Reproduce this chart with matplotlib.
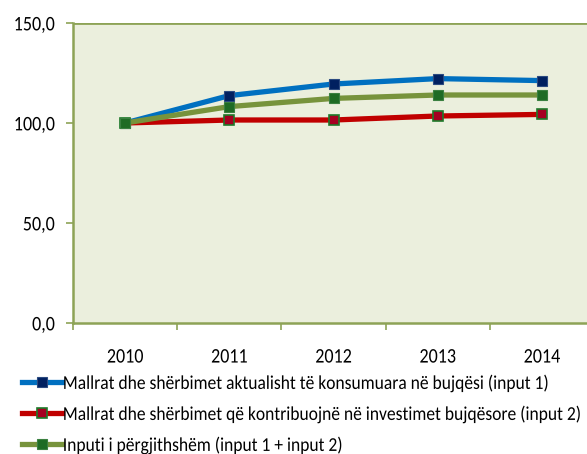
import matplotlib.pyplot as plt
from matplotlib.ticker import FuncFormatter, FixedLocator
from matplotlib.patheffects import AbstractPathEffect
from matplotlib.transforms import Affine2D

plt.rcParams['font.family'] = ['Carlito', 'DejaVu Sans']

years = ['2010', '2011', '2012', '2013', '2014']
input1 = [100.0, 113.7, 119.5, 122.2, 121.2]
input2 = [100.0, 101.5, 101.5, 103.5, 104.3]
total = [100.0, 108.2, 112.3, 114.0, 114.0]

labels = [
    'Mallrat dhe shërbimet aktualisht të konsumuara në bujqësi (input 1)',
    'Mallrat dhe shërbimet që kontribuojnë në investimet bujqësore (input 2)',
    'Inputi i përgjithshëm (input 1 + input 2)',
]


class Stretch(AbstractPathEffect):
    """Make glyphs taller, around the middle of the cap height."""

    def __init__(self, sy):
        super().__init__()
        self.sy = sy

    def draw_path(self, renderer, gc, tpath, affine, rgbFace=None):
        y0 = 32.0  # text paths use 100 units per em
        t = Affine2D().translate(0, -y0).scale(1, self.sy).translate(0, y0) + affine
        renderer.draw_path(gc, tpath, t, rgbFace)


SY = 1.15
olive = '#8DA356'
fig = plt.figure(figsize=(5.87, 4.54), dpi=100)
ax = fig.add_axes([73 / 587, 131 / 454, 521 / 587, 300 / 454])
ax.set_facecolor('#EBEFDD')

x = range(len(years))
ax.plot(x, input1, color='#0070C0', lw=3.8, marker='s', ms=7,
        mfc='#002060', mec='#2B4A80', mew=0.8, label=labels[0], zorder=3)
ax.plot(x, input2, color='#C00000', lw=3.8, marker='s', ms=7,
        mfc='#A50021', mec='#1E7A2A', mew=1.2, label=labels[1], zorder=3)
ax.plot(x, total, color='#77933C', lw=3.8, marker='s', ms=7,
        mfc='#1E6B24', mec='#3A8040', mew=0.8, label=labels[2], zorder=3)

ax.set_xlim(-0.5, 4.5)
ax.set_ylim(0, 150)
ax.set_yticks([0, 50, 100, 150])
ax.yaxis.set_major_formatter(FuncFormatter(lambda v, p: f'{v:.1f}'.replace('.', ',')))
ax.axhline(150, color=olive, lw=2.0, zorder=2)

ax.set_xticks(list(x))
ax.set_xticklabels(years)
ax.xaxis.set_minor_locator(FixedLocator([i - 0.5 for i in range(6)]))
ax.tick_params(axis='x', which='major', length=0, pad=18.5, labelsize=13)
ax.tick_params(axis='x', which='minor', length=5, width=1.2, color=olive, direction='out')
ax.tick_params(axis='y', length=5, width=1.2, color=olive, direction='out', pad=8, labelsize=13)

for side in ['top', 'right']:
    ax.spines[side].set_visible(False)
for side in ['left', 'bottom']:
    ax.spines[side].set_color(olive)
    ax.spines[side].set_linewidth(1.8)

for t in ax.get_xticklabels() + ax.get_yticklabels():
    t.set_path_effects([Stretch(SY)])

leg = fig.legend(loc='upper left', bbox_to_anchor=(22 / 587, 1 - 376 / 454), frameon=False,
                 fontsize=12.6, handlelength=2.28, handletextpad=0.05, labelspacing=0.9,
                 borderaxespad=0, borderpad=0)
for t in leg.get_texts():
    t.set_path_effects([Stretch(1.12)])

fig.savefig('out.png', dpi=100)
